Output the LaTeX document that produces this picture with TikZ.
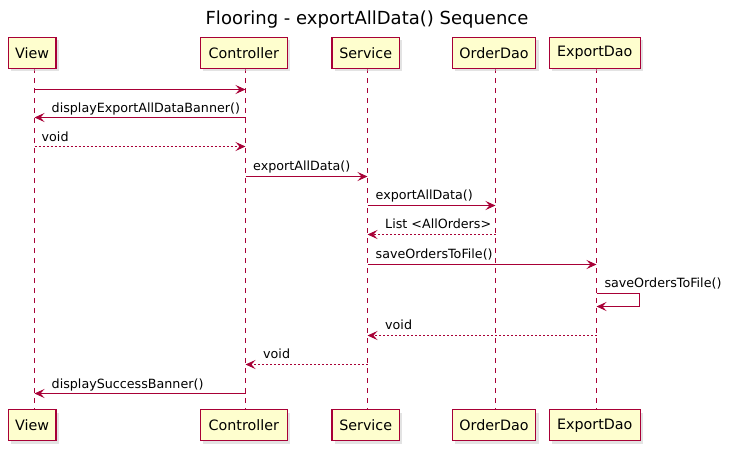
\documentclass[tikz,border=0pt]{standalone}
\usepackage{fontspec}
\setmainfont{DejaVu Sans}
\usetikzlibrary{arrows.meta,shadows}
\definecolor{umlred}{HTML}{A80036}
\definecolor{umlfill}{HTML}{FEFECE}
\begin{document}
\begin{tikzpicture}[x=1pt,y=-1pt,>={Stealth[length=10pt,width=9pt,inset=4pt]},
    part/.style={draw=umlred,fill=umlfill,line width=1.3pt,minimum height=31pt,inner sep=0pt,font=\fontsize{14.3}{16}\selectfont,
        drop shadow={shadow xshift=3pt,shadow yshift=-3pt,fill=black!22}},
    life/.style={draw=umlred,line width=1pt,dash pattern=on 5pt off 5pt},
    msg/.style={draw=umlred,->,line width=1pt},
    ret/.style={msg,dash pattern=on 2pt off 2pt},
    lbl/.style={font=\fontsize{12.7}{15}\selectfont,anchor=base west,inner sep=0pt}]
    \useasboundingbox(0,0)rectangle(736,458);
    \node[font=\fontsize{18}{20}\selectfont](title)at(367,20){Flooring - exportAllData() Sequence};
    \foreach \n/\t/\x/\l/\w in {view/View/32.2/34.5/47.7,ctrl/Controller/243.8/245.5/87,svc/Service/365.7/367.5/67.3,odao/OrderDao/494/495.5/83.3,edao/ExportDao/594.7/596.5/91}{
        \coordinate(l\n)at(\l,68.3);
        \draw[life](l\n)--(l\n|-0,410);
        \node[part,minimum width=\w pt](top\n)at(\x,52.8){\t};
        \node[part,minimum width=\w pt](bot\n)at(\x,425.3){\t};
    }
    \draw[msg](lview|-0,89.5)--(lctrl|-0,89.5);
    \draw[msg](lctrl|-0,117.5)--(lview|-0,117.5);
    \node[lbl](m2)at(51.5,112.2){displayExportAllDataBanner()};
    \draw[ret](lview|-0,146.5)--(lctrl|-0,146.5);
    \node[lbl](m3)at(41.5,141.2){void};
    \draw[msg](lctrl|-0,176.5)--(lsvc|-0,176.5);
    \node[lbl](m4)at(253,170.8){exportAllData()};
    \draw[msg](lsvc|-0,205.5)--(lodao|-0,205.5);
    \node[lbl](m5)at(375.5,199.8){exportAllData()};
    \draw[ret](lodao|-0,234.5)--(lsvc|-0,234.5);
    \node[lbl](m6)at(385,228.8){List <AllOrders>};
    \draw[msg](lsvc|-0,264.5)--(ledao|-0,264.5);
    \node[lbl](m7)at(375.5,258.8){saveOrdersToFile()};
    % self call on ExportDao
    \coordinate(loop)at(639.5,306.5);
    \draw[msg](ledao|-0,293.5)-|(loop)--(ledao|-loop);
    \node[lbl](m8)at(604.3,287.8){saveOrdersToFile()};
    \draw[ret](ledao|-0,335.5)--(lsvc|-0,335.5);
    \node[lbl](m9)at(385,329.8){void};
    \draw[ret](lsvc|-0,364.5)--(lctrl|-0,364.5);
    \node[lbl](m10)at(263,358.8){void};
    \draw[msg](lctrl|-0,393.5)--(lview|-0,393.5);
    \node[lbl](m11)at(51.5,388){displaySuccessBanner()};
\end{tikzpicture}
\end{document}
